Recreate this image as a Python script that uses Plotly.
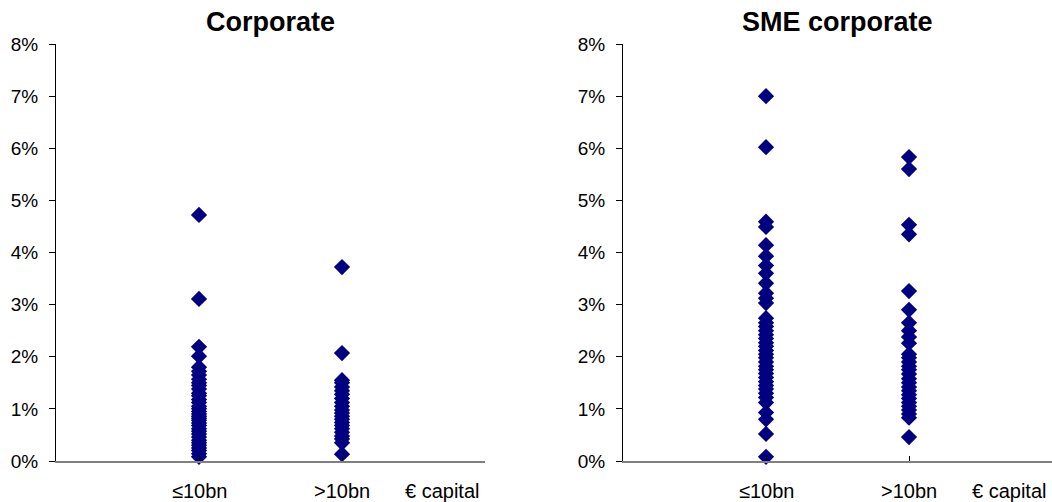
import plotly.graph_objects as go
from plotly.subplots import make_subplots

# Capital groups (x positions 1 and 2 on each panel)
groups = ["≤10bn", ">10bn"]

# Corporate exposures, values in %
corp_le10 = [4.72, 3.11, 2.19, 2.01, 1.80, 1.72, 1.65, 1.57, 1.50, 1.45, 1.38, 1.30,
             1.25, 1.18, 1.12, 1.05, 1.00, 0.95, 0.90, 0.86, 0.82, 0.78, 0.73, 0.68,
             0.62, 0.57, 0.52, 0.46, 0.40, 0.35, 0.30, 0.25, 0.20, 0.14, 0.08]
corp_gt10 = [3.72, 2.07, 1.55, 1.50, 1.42, 1.35, 1.28, 1.20, 1.12, 1.05, 0.98, 0.92,
             0.86, 0.80, 0.74, 0.68, 0.62, 0.55, 0.48, 0.42, 0.35, 0.13]

# SME corporate exposures, values in %
sme_le10 = [7.00, 6.02, 4.59, 4.49, 4.14, 3.93, 3.75, 3.60, 3.41, 3.22, 3.12, 3.03,
            2.74, 2.65, 2.58, 2.50, 2.42, 2.35, 2.27, 2.20, 2.12, 2.05, 1.98, 1.90,
            1.82, 1.75, 1.68, 1.60, 1.52, 1.45, 1.38, 1.30, 1.22, 1.12, 0.93, 0.80,
            0.52, 0.08]
sme_gt10 = [5.83, 5.60, 4.53, 4.35, 3.26, 2.90, 2.65, 2.50, 2.38, 2.26, 2.05, 1.98,
            1.90, 1.82, 1.75, 1.67, 1.58, 1.50, 1.42, 1.35, 1.27, 1.20, 1.12, 1.05,
            0.98, 0.90, 0.83, 0.46]

titles = ["Corporate", "SME corporate"]
axis_label = "€ capital"
y_ticks = list(range(0, 9))
y_ticktext = [f"{v}%" for v in y_ticks]

W, H = 1052, 502
FONT = "Liberation Sans, Arial, sans-serif"
NAVY = "#000080"

fig = make_subplots(rows=1, cols=2)

panels = [(corp_le10, corp_gt10), (sme_le10, sme_gt10)]
for col, (a, b) in enumerate(panels, start=1):
    for pos, vals in ((1, a), (2, b)):
        fig.add_trace(
            go.Scatter(
                x=[pos] * len(vals), y=vals, mode="markers",
                marker=dict(symbol="diamond", size=12.5, color=NAVY, line=dict(width=0)),
                showlegend=False, hoverinfo="y", cliponaxis=False,
            ),
            row=1, col=col,
        )

# Panel geometry in pixels
x_doms_px = [(56, 485), (623, 1052)]
y_bot_px, y_top_px = 461, 44
ydom = [1 - y_bot_px / H, 1 - y_top_px / H]

for i, (x0, x1) in enumerate(x_doms_px, start=1):
    xa = "xaxis" if i == 1 else f"xaxis{i}"
    ya = "yaxis" if i == 1 else f"yaxis{i}"
    fig.layout[xa].update(
        domain=[x0 / W, x1 / W], range=[0, 3], tickvals=[1, 2, 3], showticklabels=False,
        ticks="inside", ticklen=5, tickcolor="#000000", showgrid=False, zeroline=False,
        showline=True, linecolor="#808080", linewidth=1.5, automargin=False,
    )
    fig.layout[ya].update(
        domain=ydom, range=[0, 8], tickvals=y_ticks, ticktext=y_ticktext,
        ticks="outside", ticklen=6, tickcolor="#000000", showgrid=False, zeroline=False,
        showline=True, linecolor="#000000", linewidth=1, automargin=False,
        tickfont=dict(family=FONT, size=19, color="#000000"), ticklabelstandoff=7,
    )

annotations = []
label_y = 1 - 491 / H
for i, (x0, x1) in enumerate(x_doms_px):
    xref = "x" if i == 0 else "x2"
    # Panel title
    annotations.append(dict(
        text=f"<b>{titles[i]}</b>", xref="paper", yref="paper",
        x=(x0 + x1) / 2 / W, y=1 - 22 / H, xanchor="center", yanchor="middle",
        showarrow=False, font=dict(family=FONT, size=27, color="#000000"),
    ))
    # Category labels under the axis
    for pos, g in zip((1, 2), groups):
        annotations.append(dict(
            text=g, xref=xref, yref="paper", x=pos, y=label_y,
            xanchor="center", yanchor="middle", showarrow=False,
            font=dict(family=FONT, size=20, color="#000000"),
        ))
    annotations.append(dict(
        text=axis_label, xref=xref, yref="paper", x=2.70, y=label_y,
        xanchor="center", yanchor="middle", showarrow=False,
        font=dict(family=FONT, size=20, color="#000000"),
    ))

fig.update_layout(
    width=W, height=H, margin=dict(l=0, r=0, t=0, b=0, autoexpand=False),
    paper_bgcolor="#ffffff", plot_bgcolor="#ffffff",
    annotations=annotations,
)

fig.write_html("out.html")
